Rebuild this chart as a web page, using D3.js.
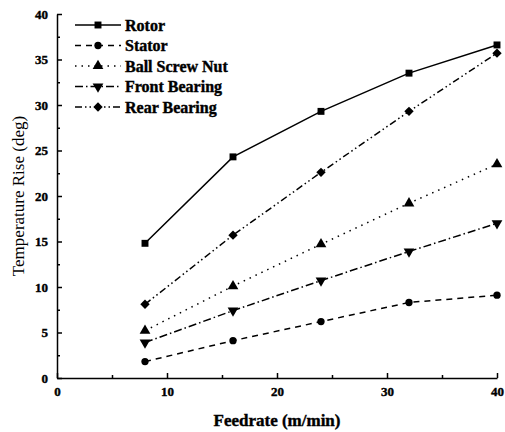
<!DOCTYPE html>
<html>
<head>
<meta charset="utf-8">
<script src="https://cdn.jsdelivr.net/npm/d3@7"></script>
<style>
  body { margin: 0; background: #fff; }
</style>
</head>
<body>
<div id="container"></div>
<script>
/* DATA */
const feedrate = [8, 16, 24, 32, 40];
const seriesNames = ["Rotor", "Stator", "Ball Screw Nut", "Front Bearing", "Rear Bearing"];
const rotor = [14.8, 24.3, 29.3, 33.5, 36.6];
const stator = [1.8, 4.1, 6.2, 8.3, 9.1];
const ballScrewNut = [5.2, 10.1, 14.7, 19.2, 23.5];
const frontBearing = [3.9, 7.4, 10.7, 13.9, 17.0];
const rearBearing = [8.1, 15.7, 22.6, 29.3, 35.7];
const xTicks = [0, 10, 20, 30, 40];
const yTicks = [0, 5, 10, 15, 20, 25, 30, 35, 40];

/* CONSTANTS */
const width = 505, height = 432;
const serif = "'Liberation Serif', 'Times New Roman', serif";

const series = [
  { name: seriesNames[0], values: rotor, dash: null, symbol: d3.symbolSquare, size: 48, rot: 0 },
  { name: seriesNames[1], values: stator, dash: "6,5", symbol: d3.symbolCircle, size: 42, rot: 0 },
  { name: seriesNames[2], values: ballScrewNut, dash: "1.5,5", symbol: d3.symbolTriangle, size: 50, rot: 0 },
  { name: seriesNames[3], values: frontBearing, dash: "8,3,1.5,3", symbol: d3.symbolTriangle, size: 50, rot: 180 },
  { name: seriesNames[4], values: rearBearing, dash: "7,3,1.5,3,1.5,3", symbol: d3.symbolSquare, size: 44, rot: 45 },
];

// bold serif face, outlined a little to get the heavy print look
function boldText(sel, size) {
  sel.attr("font-family", serif)
    .attr("font-weight", "bold")
    .attr("font-size", size)
    .attr("fill", "#000")
    .attr("stroke", "#000")
    .attr("stroke-width", 0.4);
}

const xScale = d3.scaleLinear().domain([0, 40]).range([57, 497]);
const yScale = d3.scaleLinear().domain([0, 40]).range([378, 14]);

const svg = d3.select("#container").append("svg")
  .attr("width", width)
  .attr("height", height);

/* AXES */
const xAxis = d3.axisBottom(xScale).tickValues(xTicks).tickSizeInner(-5).tickSizeOuter(0).tickPadding(9);
const yAxis = d3.axisLeft(yScale).tickValues(yTicks).tickSizeInner(-5).tickSizeOuter(0).tickPadding(9);

const gx = svg.append("g").attr("transform", `translate(0,${yScale(0)})`).call(xAxis);
gx.selectAll("text").call(boldText, 13);
svg.append("g").attr("transform", `translate(0,${yScale(0)})`)
  .call(d3.axisBottom(xScale).tickValues([5, 15, 25, 35]).tickSizeInner(-3).tickSizeOuter(0).tickFormat(""))
  .select(".domain").remove();

const gy = svg.append("g").attr("transform", `translate(${xScale(0)},0)`).call(yAxis);
gy.selectAll("text").call(boldText, 13);
svg.append("g").attr("transform", `translate(${xScale(0)},0)`)
  .call(d3.axisLeft(yScale).tickValues([2.5, 7.5, 12.5, 17.5, 22.5, 27.5, 32.5, 37.5]).tickSizeInner(-3).tickSizeOuter(0).tickFormat(""))
  .select(".domain").remove();

svg.selectAll(".domain, .tick line").attr("stroke", "#000").attr("stroke-width", 1.5);

/* LABELS */
svg.append("text")
  .attr("x", 277).attr("y", 426)
  .attr("text-anchor", "middle")
  .call(boldText, 17)
  .text("Feedrate (m/min)");

svg.append("text")
  .attr("transform", `translate(24,${yScale(20)}) rotate(-90)`)
  .attr("text-anchor", "middle")
  .attr("font-family", serif)
  .attr("font-size", 17)
  .text("Temperature Rise (deg)");

/* SERIES */
const symbolPath = s => d3.symbol(s.symbol, s.size)();
const line = d3.line().x((d, i) => xScale(feedrate[i])).y(d => yScale(d));

series.forEach(s => {
  svg.append("path")
    .datum(s.values)
    .attr("d", line)
    .attr("fill", "none")
    .attr("stroke", "#000")
    .attr("stroke-width", 1.5)
    .attr("stroke-dasharray", s.dash);

  svg.selectAll(null)
    .data(s.values)
    .join("path")
    .attr("d", symbolPath(s))
    .attr("transform", (d, i) => `translate(${xScale(feedrate[i])},${yScale(d)}) rotate(${s.rot})`)
    .attr("fill", "#000");
});

/* LEGEND */
const legend = svg.append("g").attr("transform", "translate(75,25)");
const rows = legend.selectAll("g")
  .data(series)
  .join("g")
  .attr("transform", (d, i) => `translate(0,${i * 20.5})`);

rows.append("line")
  .attr("x1", 0).attr("x2", 46)
  .attr("stroke", "#000")
  .attr("stroke-width", 1.5)
  .attr("stroke-dasharray", d => d.dash);

rows.append("path")
  .attr("d", d => symbolPath(d))
  .attr("transform", d => `translate(23,0) rotate(${d.rot})`)
  .attr("fill", "#000");

rows.append("text")
  .attr("x", 50)
  .attr("dy", "0.35em")
  .call(boldText, 16)
  .text(d => d.name);
</script>
</body>
</html>
